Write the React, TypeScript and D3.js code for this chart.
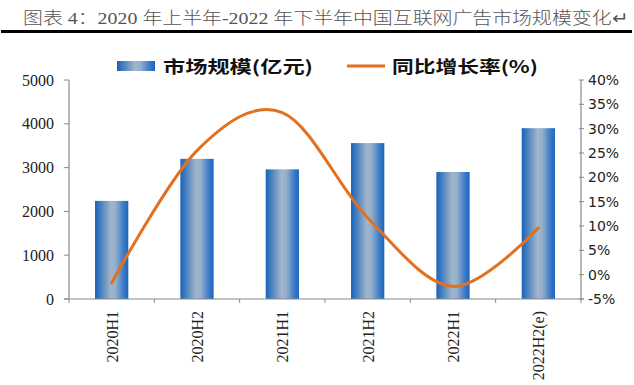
import React from "react";
import * as d3 from "d3";

const categories = ["2020H1", "2020H2", "2021H1", "2021H2", "2022H1", "2022H2(e)"];
const marketSize = [2240, 3200, 2960, 3560, 2900, 3900];
const growthRate = [-1.7, 25.5, 33.3, 11.7, -2.4, 9.6];
const leftTicks = [0, 1000, 2000, 3000, 4000, 5000];
const rightTicks = [-5, 0, 5, 10, 15, 20, 25, 30, 35, 40];

const width = 634;
const height = 385;
const left = 69;
const right = 581;
const top = 80;
const bottom = 299;

const axisColor = "#8a8a8a";
const lineColor = "#E2701C";

const App = () => {
  let xScale = d3
    .scaleBand()
    .domain(categories)
    .range([left, right])
    .paddingInner(0.61)
    .paddingOuter(0.305);

  let yLeft = d3.scaleLinear().domain([0, 5000]).range([bottom, top]);
  let yRight = d3.scaleLinear().domain([-5, 40]).range([bottom, top]);

  let step = (right - left) / categories.length;
  let center = (c: string) => (xScale(c) as number) + xScale.bandwidth() / 2;

  let line = d3
    .line<number>()
    .x((d, i) => center(categories[i]))
    .y((d) => yRight(d))
    .curve(d3.curveCardinal.tension(0));

  return (
    <svg
      width={width}
      height={height}
      style={{ position: "fixed", left: 0, top: 0, background: "#fff" }}
    >
      <defs>
        <linearGradient id="barGrad" x1="0" x2="1" y1="0" y2="0">
          <stop offset="0%" stopColor="#1a62b8" />
          <stop offset="18%" stopColor="#4a82c0" />
          <stop offset="48%" stopColor="#a2b6ca" />
          <stop offset="62%" stopColor="#93afcb" />
          <stop offset="85%" stopColor="#3f7cc6" />
          <stop offset="100%" stopColor="#1966c4" />
        </linearGradient>
      </defs>

      {/* title */}
      <text
        x={23}
        y={24}
        fontSize={17}
        fill="#555"
        fontWeight={300}
        fontFamily="'Liberation Serif', 'Noto Sans CJK SC', serif"
        textLength={605}
        lengthAdjust="spacingAndGlyphs"
      >
        图表 4：2020 年上半年-2022 年下半年中国互联网广告市场规模变化↵
      </text>
      <rect x={1} y={30} width={631} height={3} fill="#000" />

      {/* legend */}
      <rect x={117} y={61} width={38} height={10} fill="url(#barGrad)" />
      <text
        x={163}
        y={73}
        fontSize={17}
        fontWeight="bold"
        fill="#111"
        fontFamily="'Noto Sans CJK SC', sans-serif"
        textLength={150}
        lengthAdjust="spacingAndGlyphs"
      >
        市场规模(亿元)
      </text>
      <line x1={347} x2={385} y1={66} y2={66} stroke={lineColor} strokeWidth={3} />
      <text
        x={392}
        y={73}
        fontSize={17}
        fontWeight="bold"
        fill="#111"
        fontFamily="'Noto Sans CJK SC', sans-serif"
        textLength={146}
        lengthAdjust="spacingAndGlyphs"
      >
        同比增长率(%)
      </text>

      {/* bars */}
      {categories.map((c, i) => (
        <rect
          key={c}
          x={xScale(c)}
          y={yLeft(marketSize[i])}
          width={xScale.bandwidth()}
          height={bottom - yLeft(marketSize[i])}
          fill="url(#barGrad)"
        />
      ))}

      {/* left axis */}
      <line x1={left} x2={left} y1={top} y2={bottom} stroke={axisColor} strokeWidth={1.2} />
      {leftTicks.map((t) => (
        <g key={t}>
          <line x1={left - 5} x2={left} y1={yLeft(t)} y2={yLeft(t)} stroke={axisColor} />
          <text
            x={54}
            y={yLeft(t)}
            dy="0.35em"
            textAnchor="end"
            fontSize={16}
            fill="#222"
            fontFamily="'Liberation Serif', serif"
          >
            {t}
          </text>
        </g>
      ))}

      {/* right axis */}
      <line x1={right} x2={right} y1={top} y2={bottom} stroke={axisColor} strokeWidth={1.2} />
      {rightTicks.map((t) => (
        <g key={t}>
          <line x1={right - 2} x2={right + 3} y1={yRight(t)} y2={yRight(t)} stroke={axisColor} />
          <text
            x={588}
            y={yRight(t)}
            dy="0.35em"
            fontSize={14}
            fill="#222"
            fontFamily="'DejaVu Sans', sans-serif"
          >
            {t + "%"}
          </text>
        </g>
      ))}

      {/* bottom axis */}
      <line x1={left - 5} x2={right + 3} y1={bottom} y2={bottom} stroke={axisColor} strokeWidth={1.2} />
      {d3.range(categories.length + 1).map((i) => (
        <line
          key={i}
          x1={left + i * step}
          x2={left + i * step}
          y1={bottom}
          y2={bottom + 4}
          stroke={axisColor}
        />
      ))}
      {categories.map((c) => (
        <text
          key={c}
          transform={`translate(${center(c) + 6},311) rotate(-90)`}
          textAnchor="end"
          fontSize={16}
          fill="#222"
          fontFamily="'Liberation Serif', serif"
        >
          {c}
        </text>
      ))}

      {/* growth line */}
      <path
        d={line(growthRate) || ""}
        fill="none"
        stroke={lineColor}
        strokeWidth={3}
        strokeLinecap="round"
      />
    </svg>
  );
};

export default App;
